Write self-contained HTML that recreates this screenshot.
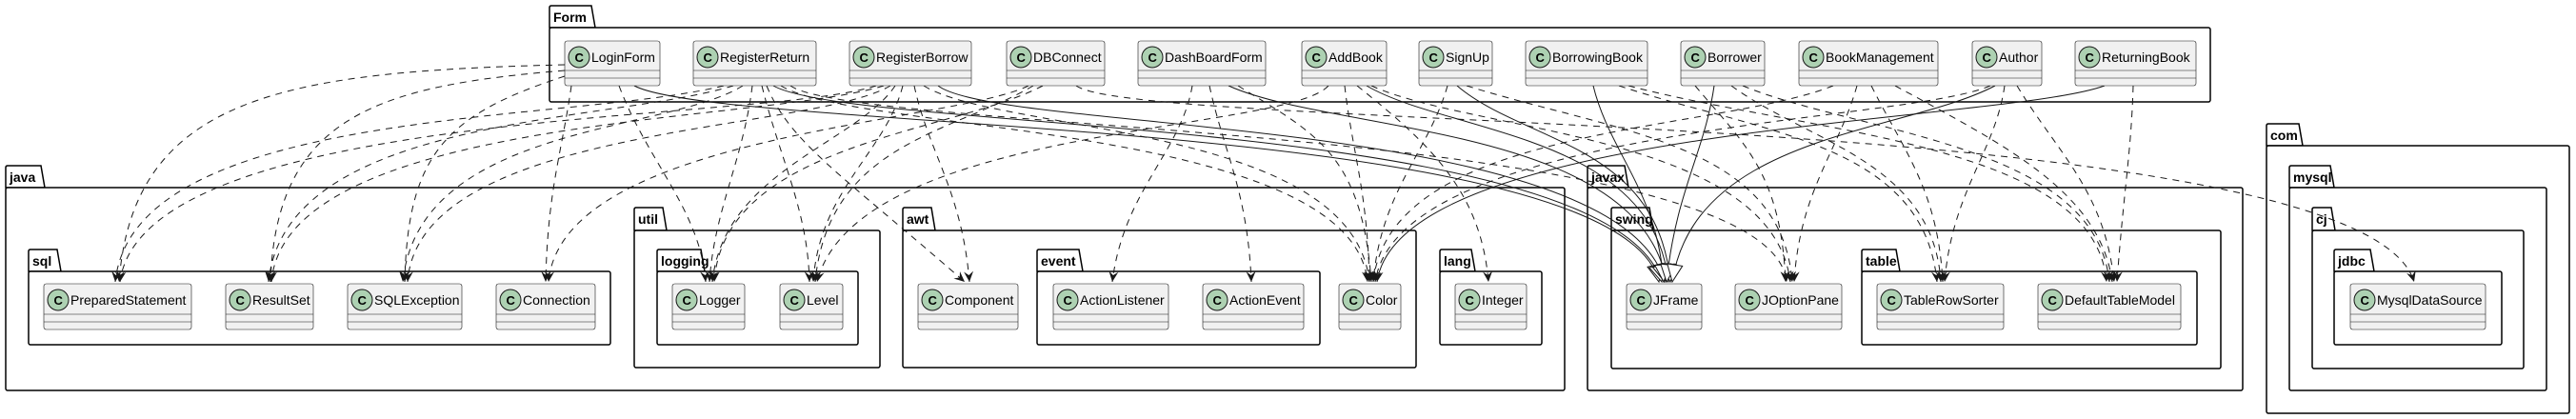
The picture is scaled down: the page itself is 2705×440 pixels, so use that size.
<!DOCTYPE html>
<html><head><meta charset="utf-8"><style>
html,body{margin:0;padding:0;background:#fff;width:2705px;height:440px;overflow:hidden}
svg{display:block}
.pk{fill:#fff;stroke:#000;stroke-width:1.5}
.pl{font:bold 14px "Liberation Sans",sans-serif;fill:#000}
.cb{fill:#F1F1F1;stroke:#181818;stroke-width:0.6}
.cl{stroke:#181818;stroke-width:0.6}
.ci{fill:#ADD1B2;stroke:#181818;stroke-width:1}
.ct{font:bold 13px "Liberation Sans",sans-serif;fill:#000}
.cn{font:14px "Liberation Sans",sans-serif;fill:#000}
.d{fill:none;stroke:#181818;stroke-width:1;stroke-dasharray:7,6}
.s{fill:none;stroke:#181818;stroke-width:1}
</style></head><body>
<svg width="2705" height="440" viewBox="0 0 2705 440" xmlns="http://www.w3.org/2000/svg">
<defs>
<marker id="a" viewBox="0 0 12 12" refX="11" refY="6" markerWidth="12" markerHeight="12" markerUnits="userSpaceOnUse" orient="auto"><path d="M0,1 L11,6 L0,11 L4,6 Z" fill="#181818"/></marker>
<marker id="t" viewBox="0 0 20 20" refX="19" refY="10" markerWidth="20" markerHeight="20" markerUnits="userSpaceOnUse" orient="auto"><path d="M1,2 L19,10 L1,18 Z" fill="#fff" stroke="#181818"/></marker>
</defs>

<!-- Packages -->
<g>
<path class="pk" d="M577,29 L577,8 Q577,6 579,6 L621,6 L625,29 Z"/><rect class="pk" x="577" y="29" width="1744" height="78" rx="2"/><text class="pl" x="581" y="23">Form</text>

<path class="pk" d="M6,197 L6,176 Q6,174 8,174 L43,174 L47,197 Z"/><rect class="pk" x="6" y="197" width="1637" height="213" rx="2"/><text class="pl" x="10" y="191">java</text>
<path class="pk" d="M30,285 L30,264 Q30,262 32,262 L60,262 L64,285 Z"/><rect class="pk" x="30" y="285" width="611" height="77" rx="2"/><text class="pl" x="34" y="279">sql</text>
<path class="pk" d="M666,242 L666,220 Q666,218 668,218 L696,218 L700,242 Z"/><rect class="pk" x="666" y="242" width="258" height="144" rx="2"/><text class="pl" x="670" y="235">util</text>
<path class="pk" d="M690,285 L690,264 Q690,262 692,262 L736,262 L740,285 Z"/><rect class="pk" x="690" y="285" width="211" height="77" rx="2"/><text class="pl" x="694" y="279">logging</text>
<path class="pk" d="M948,242 L948,220 Q948,218 950,218 L978,218 L982,242 Z"/><rect class="pk" x="948" y="242" width="539" height="144" rx="2"/><text class="pl" x="952" y="235">awt</text>
<path class="pk" d="M1089,285 L1089,264 Q1089,262 1091,262 L1133,262 L1137,285 Z"/><rect class="pk" x="1089" y="285" width="297" height="77" rx="2"/><text class="pl" x="1093" y="279">event</text>
<path class="pk" d="M1512,285 L1512,264 Q1512,262 1514,262 L1545,262 L1549,285 Z"/><rect class="pk" x="1512" y="285" width="107" height="77" rx="2"/><text class="pl" x="1516" y="279">lang</text>

<path class="pk" d="M1667,197 L1667,176 Q1667,174 1669,174 L1706,174 L1710,197 Z"/><rect class="pk" x="1667" y="197" width="688" height="213" rx="2"/><text class="pl" x="1671" y="191">javax</text>
<path class="pk" d="M1692,242 L1692,220 Q1692,218 1694,218 L1732,218 L1736,242 Z"/><rect class="pk" x="1692" y="242" width="640" height="145" rx="2"/><text class="pl" x="1696" y="235">swing</text>
<path class="pk" d="M1955,285 L1955,264 Q1955,262 1957,262 L1991,262 L1995,285 Z"/><rect class="pk" x="1955" y="285" width="352" height="77" rx="2"/><text class="pl" x="1959" y="279">table</text>

<path class="pk" d="M2380,153 L2380,132 Q2380,130 2382,130 L2414,130 L2418,153 Z"/><rect class="pk" x="2380" y="153" width="318" height="281" rx="2"/><text class="pl" x="2384" y="147">com</text>
<path class="pk" d="M2404,197 L2404,176 Q2404,174 2406,174 L2447,174 L2451,197 Z"/><rect class="pk" x="2404" y="197" width="270" height="213" rx="2"/><text class="pl" x="2408" y="191">mysql</text>
<path class="pk" d="M2428,242 L2428,220 Q2428,218 2430,218 L2448,218 L2452,242 Z"/><rect class="pk" x="2428" y="242" width="222" height="145" rx="2"/><text class="pl" x="2432" y="235">cj</text>
<path class="pk" d="M2451,285 L2451,264 Q2451,262 2453,262 L2489,262 L2493,285 Z"/><rect class="pk" x="2451" y="285" width="176" height="77" rx="2"/><text class="pl" x="2455" y="279">jdbc</text>
</g>

<!-- Edges -->
<g>
<!-- LoginForm -->
<path class="d" d="M593,68 C300,75 140,100 125,296" marker-end="url(#a)"/>
<path class="d" d="M593,74 C400,90 290,120 284,296" marker-end="url(#a)"/>
<path class="d" d="M593,80 C470,120 428,160 425,296" marker-end="url(#a)"/>
<path class="d" d="M600,90 C590,160 575,200 573,296" marker-end="url(#a)"/>
<path class="d" d="M650,90 C680,170 735,220 741,296" marker-end="url(#a)"/>
<path class="s" d="M666,90 C760,140 1700,120 1742,296" marker-end="url(#t)"/>
<!-- RegisterReturn -->
<path class="d" d="M760,90 C600,130 140,110 121,296" marker-end="url(#a)"/>
<path class="d" d="M770,90 C640,130 300,120 282,296" marker-end="url(#a)"/>
<path class="d" d="M780,90 C700,140 440,130 423,296" marker-end="url(#a)"/>
<path class="d" d="M790,90 C780,170 750,220 745,296" marker-end="url(#a)"/>
<path class="d" d="M800,90 C820,170 848,220 850,296" marker-end="url(#a)"/>
<path class="d" d="M805,90 C830,150 880,180 1013,296" marker-end="url(#a)"/>
<path class="s" d="M812,90 C900,140 1690,120 1745,296" marker-end="url(#t)"/>
<path class="d" d="M820,90 C900,140 1420,130 1436,296" marker-end="url(#a)"/>
<path class="d" d="M830,90 C900,140 1860,130 1876,296" marker-end="url(#a)"/>
<!-- RegisterBorrow -->
<path class="d" d="M920,90 C800,130 150,110 126,296" marker-end="url(#a)"/>
<path class="d" d="M928,90 C800,130 300,120 285,296" marker-end="url(#a)"/>
<path class="d" d="M935,90 C850,140 440,130 428,296" marker-end="url(#a)"/>
<path class="d" d="M940,90 C900,150 760,180 748,296" marker-end="url(#a)"/>
<path class="d" d="M948,90 C930,160 860,200 854,296" marker-end="url(#a)"/>
<path class="d" d="M960,90 C975,160 1010,200 1018,296" marker-end="url(#a)"/>
<path class="s" d="M985,90 C1050,140 1700,120 1748,296" marker-end="url(#t)"/>
<path class="d" d="M970,90 C1050,140 1420,130 1438,296" marker-end="url(#a)"/>
<!-- DBConnect -->
<path class="d" d="M1080,90 C1000,130 590,140 576,296" marker-end="url(#a)"/>
<path class="d" d="M1085,90 C1000,140 870,150 856,296" marker-end="url(#a)"/>
<path class="d" d="M1095,90 C1000,140 760,150 750,296" marker-end="url(#a)"/>
<path class="d" d="M1130,90 C1200,140 2480,110 2535,296" marker-end="url(#a)"/>
<!-- DashBoardForm -->
<path class="d" d="M1252,90 C1240,160 1180,200 1168,296" marker-end="url(#a)"/>
<path class="d" d="M1270,90 C1285,160 1310,200 1314,296" marker-end="url(#a)"/>
<path class="s" d="M1290,90 C1400,140 1720,130 1750,296" marker-end="url(#t)"/>
<path class="d" d="M1300,90 C1380,140 1430,160 1440,296" marker-end="url(#a)"/>
<!-- AddBook -->
<path class="d" d="M1395,90 C1350,140 900,130 858,296" marker-end="url(#a)"/>
<path class="d" d="M1412,90 C1420,160 1436,200 1438,296" marker-end="url(#a)"/>
<path class="d" d="M1425,90 C1500,150 1555,200 1563,296" marker-end="url(#a)"/>
<path class="s" d="M1435,90 C1520,140 1735,140 1752,296" marker-end="url(#t)"/>
<path class="d" d="M1440,90 C1550,140 1860,140 1880,296" marker-end="url(#a)"/>
<!-- SignUp -->
<path class="d" d="M1520,90 C1500,160 1450,200 1442,296" marker-end="url(#a)"/>
<path class="s" d="M1530,90 C1600,150 1740,150 1754,296" marker-end="url(#t)"/>
<path class="d" d="M1540,90 C1700,140 1870,150 1882,296" marker-end="url(#a)"/>
<!-- BorrowingBook -->
<path class="s" d="M1673,90 C1690,160 1740,200 1747,296" marker-end="url(#t)"/>
<path class="d" d="M1700,90 C1850,140 2020,150 2034,296" marker-end="url(#a)"/>
<path class="d" d="M1710,90 C1900,140 2200,150 2212,296" marker-end="url(#a)"/>
<!-- Borrower -->
<path class="s" d="M1800,90 C1790,160 1760,200 1750,296" marker-end="url(#t)"/>
<path class="d" d="M1780,90 C1830,150 1870,180 1875,296" marker-end="url(#a)"/>
<path class="d" d="M1818,90 C1900,150 2030,170 2038,296" marker-end="url(#a)"/>
<path class="d" d="M1830,90 C1950,140 2200,150 2215,296" marker-end="url(#a)"/>
<!-- BookManagement -->
<path class="d" d="M1925,90 C1800,140 1460,130 1442,296" marker-end="url(#a)"/>
<path class="d" d="M1950,90 C1930,160 1890,200 1884,296" marker-end="url(#a)"/>
<path class="d" d="M1965,90 C2000,160 2035,200 2040,296" marker-end="url(#a)"/>
<path class="d" d="M1990,90 C2100,150 2205,200 2218,296" marker-end="url(#a)"/>
<!-- Author -->
<path class="s" d="M2095,90 C2000,140 1780,140 1756,296" marker-end="url(#t)"/>
<path class="d" d="M2105,90 C2095,160 2050,200 2042,296" marker-end="url(#a)"/>
<path class="d" d="M2118,90 C2160,160 2210,200 2220,296" marker-end="url(#a)"/>
<path class="d" d="M2090,90 C2000,130 1470,130 1444,296" marker-end="url(#a)"/>
<!-- ReturningBook -->
<path class="s" d="M2210,90 C2100,130 1470,130 1446,296" marker-end="url(#a)"/>
<path class="d" d="M2240,90 C2238,160 2230,200 2223,296" marker-end="url(#a)"/>
</g>

<!-- Classes -->
<g id="classes">
<!-- helper layout: box h=47, circle center (x+15,y+18), lines y+32,y+40 -->
<g transform="translate(593,43)"><rect class="cb" width="100" height="47" rx="2.5"/><line class="cl" x1="0" y1="31" x2="100" y2="31"/><line class="cl" x1="0" y1="39" x2="100" y2="39"/><circle class="ci" cx="15" cy="17" r="11"/><text class="ct" x="10.5" y="22">C</text><text class="cn" x="28" y="22">LoginForm</text></g>
<g transform="translate(728,43)"><rect class="cb" width="129" height="47" rx="2.5"/><line class="cl" x1="0" y1="31" x2="129" y2="31"/><line class="cl" x1="0" y1="39" x2="129" y2="39"/><circle class="ci" cx="15" cy="17" r="11"/><text class="ct" x="10.5" y="22">C</text><text class="cn" x="28" y="22">RegisterReturn</text></g>
<g transform="translate(892,43)"><rect class="cb" width="128" height="47" rx="2.5"/><line class="cl" x1="0" y1="31" x2="128" y2="31"/><line class="cl" x1="0" y1="39" x2="128" y2="39"/><circle class="ci" cx="15" cy="17" r="11"/><text class="ct" x="10.5" y="22">C</text><text class="cn" x="28" y="22">RegisterBorrow</text></g>
<g transform="translate(1057,43)"><rect class="cb" width="103" height="47" rx="2.5"/><line class="cl" x1="0" y1="31" x2="103" y2="31"/><line class="cl" x1="0" y1="39" x2="103" y2="39"/><circle class="ci" cx="15" cy="17" r="11"/><text class="ct" x="10.5" y="22">C</text><text class="cn" x="28" y="22">DBConnect</text></g>
<g transform="translate(1195,43)"><rect class="cb" width="134" height="47" rx="2.5"/><line class="cl" x1="0" y1="31" x2="134" y2="31"/><line class="cl" x1="0" y1="39" x2="134" y2="39"/><circle class="ci" cx="15" cy="17" r="11"/><text class="ct" x="10.5" y="22">C</text><text class="cn" x="28" y="22">DashBoardForm</text></g>
<g transform="translate(1367,43)"><rect class="cb" width="89" height="47" rx="2.5"/><line class="cl" x1="0" y1="31" x2="89" y2="31"/><line class="cl" x1="0" y1="39" x2="89" y2="39"/><circle class="ci" cx="15" cy="17" r="11"/><text class="ct" x="10.5" y="22">C</text><text class="cn" x="28" y="22">AddBook</text></g>
<g transform="translate(1490,43)"><rect class="cb" width="77" height="47" rx="2.5"/><line class="cl" x1="0" y1="31" x2="77" y2="31"/><line class="cl" x1="0" y1="39" x2="77" y2="39"/><circle class="ci" cx="15" cy="17" r="11"/><text class="ct" x="10.5" y="22">C</text><text class="cn" x="28" y="22">SignUp</text></g>
<g transform="translate(1602,43)"><rect class="cb" width="128" height="47" rx="2.5"/><line class="cl" x1="0" y1="31" x2="128" y2="31"/><line class="cl" x1="0" y1="39" x2="128" y2="39"/><circle class="ci" cx="15" cy="17" r="11"/><text class="ct" x="10.5" y="22">C</text><text class="cn" x="28" y="22">BorrowingBook</text></g>
<g transform="translate(1765,43)"><rect class="cb" width="88" height="47" rx="2.5"/><line class="cl" x1="0" y1="31" x2="88" y2="31"/><line class="cl" x1="0" y1="39" x2="88" y2="39"/><circle class="ci" cx="15" cy="17" r="11"/><text class="ct" x="10.5" y="22">C</text><text class="cn" x="28" y="22">Borrower</text></g>
<g transform="translate(1889,43)"><rect class="cb" width="146" height="47" rx="2.5"/><line class="cl" x1="0" y1="31" x2="146" y2="31"/><line class="cl" x1="0" y1="39" x2="146" y2="39"/><circle class="ci" cx="15" cy="17" r="11"/><text class="ct" x="10.5" y="22">C</text><text class="cn" x="28" y="22">BookManagement</text></g>
<g transform="translate(2071,43)"><rect class="cb" width="73" height="47" rx="2.5"/><line class="cl" x1="0" y1="31" x2="73" y2="31"/><line class="cl" x1="0" y1="39" x2="73" y2="39"/><circle class="ci" cx="15" cy="17" r="11"/><text class="ct" x="10.5" y="22">C</text><text class="cn" x="28" y="22">Author</text></g>
<g transform="translate(2179,43)"><rect class="cb" width="127" height="47" rx="2.5"/><line class="cl" x1="0" y1="31" x2="127" y2="31"/><line class="cl" x1="0" y1="39" x2="127" y2="39"/><circle class="ci" cx="15" cy="17" r="11"/><text class="ct" x="10.5" y="22">C</text><text class="cn" x="28" y="22">ReturningBook</text></g>

<g transform="translate(46,298)"><rect class="cb" width="155" height="48" rx="2.5"/><line class="cl" x1="0" y1="32" x2="155" y2="32"/><line class="cl" x1="0" y1="40" x2="155" y2="40"/><circle class="ci" cx="15" cy="17" r="11"/><text class="ct" x="10.5" y="22">C</text><text class="cn" x="28" y="22">PreparedStatement</text></g>
<g transform="translate(237,298)"><rect class="cb" width="92" height="48" rx="2.5"/><line class="cl" x1="0" y1="32" x2="92" y2="32"/><line class="cl" x1="0" y1="40" x2="92" y2="40"/><circle class="ci" cx="15" cy="17" r="11"/><text class="ct" x="10.5" y="22">C</text><text class="cn" x="28" y="22">ResultSet</text></g>
<g transform="translate(365,298)"><rect class="cb" width="120" height="48" rx="2.5"/><line class="cl" x1="0" y1="32" x2="120" y2="32"/><line class="cl" x1="0" y1="40" x2="120" y2="40"/><circle class="ci" cx="15" cy="17" r="11"/><text class="ct" x="10.5" y="22">C</text><text class="cn" x="28" y="22">SQLException</text></g>
<g transform="translate(521,298)"><rect class="cb" width="104" height="48" rx="2.5"/><line class="cl" x1="0" y1="32" x2="104" y2="32"/><line class="cl" x1="0" y1="40" x2="104" y2="40"/><circle class="ci" cx="15" cy="17" r="11"/><text class="ct" x="10.5" y="22">C</text><text class="cn" x="28" y="22">Connection</text></g>
<g transform="translate(706,298)"><rect class="cb" width="76" height="48" rx="2.5"/><line class="cl" x1="0" y1="32" x2="76" y2="32"/><line class="cl" x1="0" y1="40" x2="76" y2="40"/><circle class="ci" cx="15" cy="17" r="11"/><text class="ct" x="10.5" y="22">C</text><text class="cn" x="28" y="22">Logger</text></g>
<g transform="translate(819,298)"><rect class="cb" width="66" height="48" rx="2.5"/><line class="cl" x1="0" y1="32" x2="66" y2="32"/><line class="cl" x1="0" y1="40" x2="66" y2="40"/><circle class="ci" cx="15" cy="17" r="11"/><text class="ct" x="10.5" y="22">C</text><text class="cn" x="28" y="22">Level</text></g>
<g transform="translate(964,298)"><rect class="cb" width="105" height="48" rx="2.5"/><line class="cl" x1="0" y1="32" x2="105" y2="32"/><line class="cl" x1="0" y1="40" x2="105" y2="40"/><circle class="ci" cx="15" cy="17" r="11"/><text class="ct" x="10.5" y="22">C</text><text class="cn" x="28" y="22">Component</text></g>
<g transform="translate(1106,298)"><rect class="cb" width="121" height="48" rx="2.5"/><line class="cl" x1="0" y1="32" x2="121" y2="32"/><line class="cl" x1="0" y1="40" x2="121" y2="40"/><circle class="ci" cx="15" cy="17" r="11"/><text class="ct" x="10.5" y="22">C</text><text class="cn" x="28" y="22">ActionListener</text></g>
<g transform="translate(1263,298)"><rect class="cb" width="106" height="48" rx="2.5"/><line class="cl" x1="0" y1="32" x2="106" y2="32"/><line class="cl" x1="0" y1="40" x2="106" y2="40"/><circle class="ci" cx="15" cy="17" r="11"/><text class="ct" x="10.5" y="22">C</text><text class="cn" x="28" y="22">ActionEvent</text></g>
<g transform="translate(1406,298)"><rect class="cb" width="65" height="48" rx="2.5"/><line class="cl" x1="0" y1="32" x2="65" y2="32"/><line class="cl" x1="0" y1="40" x2="65" y2="40"/><circle class="ci" cx="15" cy="17" r="11"/><text class="ct" x="10.5" y="22">C</text><text class="cn" x="28" y="22">Color</text></g>
<g transform="translate(1528,298)"><rect class="cb" width="75" height="48" rx="2.5"/><line class="cl" x1="0" y1="32" x2="75" y2="32"/><line class="cl" x1="0" y1="40" x2="75" y2="40"/><circle class="ci" cx="15" cy="17" r="11"/><text class="ct" x="10.5" y="22">C</text><text class="cn" x="28" y="22">Integer</text></g>
<g transform="translate(1708,298)"><rect class="cb" width="79" height="48" rx="2.5"/><line class="cl" x1="0" y1="32" x2="79" y2="32"/><line class="cl" x1="0" y1="40" x2="79" y2="40"/><circle class="ci" cx="15" cy="17" r="11"/><text class="ct" x="10.5" y="22">C</text><text class="cn" x="28" y="22">JFrame</text></g>
<g transform="translate(1822,298)"><rect class="cb" width="112" height="48" rx="2.5"/><line class="cl" x1="0" y1="32" x2="112" y2="32"/><line class="cl" x1="0" y1="40" x2="112" y2="40"/><circle class="ci" cx="15" cy="17" r="11"/><text class="ct" x="10.5" y="22">C</text><text class="cn" x="28" y="22">JOptionPane</text></g>
<g transform="translate(1971,298)"><rect class="cb" width="133" height="48" rx="2.5"/><line class="cl" x1="0" y1="32" x2="133" y2="32"/><line class="cl" x1="0" y1="40" x2="133" y2="40"/><circle class="ci" cx="15" cy="17" r="11"/><text class="ct" x="10.5" y="22">C</text><text class="cn" x="28" y="22">TableRowSorter</text></g>
<g transform="translate(2140,298)"><rect class="cb" width="150" height="48" rx="2.5"/><line class="cl" x1="0" y1="32" x2="150" y2="32"/><line class="cl" x1="0" y1="40" x2="150" y2="40"/><circle class="ci" cx="15" cy="17" r="11"/><text class="ct" x="10.5" y="22">C</text><text class="cn" x="28" y="22">DefaultTableModel</text></g>
<g transform="translate(2468,298)"><rect class="cb" width="142" height="48" rx="2.5"/><line class="cl" x1="0" y1="32" x2="142" y2="32"/><line class="cl" x1="0" y1="40" x2="142" y2="40"/><circle class="ci" cx="15" cy="17" r="11"/><text class="ct" x="10.5" y="22">C</text><text class="cn" x="28" y="22">MysqlDataSource</text></g>
</g>
</svg>
</body></html>
